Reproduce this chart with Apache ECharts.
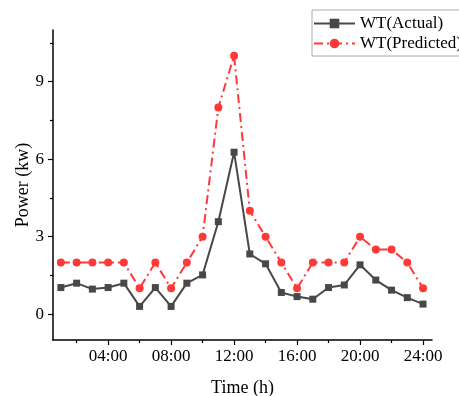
<!DOCTYPE html>
<html><head><meta charset="utf-8">
<script src="https://cdn.jsdelivr.net/npm/echarts@6/dist/echarts.min.js"></script>
<style>html,body{margin:0;padding:0;background:#fff}#c{width:459px;height:396px}</style>
</head><body><div id="c"></div>
<script>
const hours = [1,2,3,4,5,6,7,8,9,10,11,12,13,14,15,16,17,18,19,20,21,22,23,24];
const actual = [1.03,1.2,0.97,1.03,1.2,0.3,1.03,0.3,1.2,1.52,3.58,6.27,2.33,1.95,0.84,0.68,0.58,1.03,1.13,1.91,1.32,0.93,0.64,0.39];
const predicted = [2,2,2,2,2,1,2,1,2,3,8,10,4,3,2,1,2,2,2,3,2.5,2.5,2,1];
const xMajorTicks = [4,8,12,16,20,24];
const xMinorTicks = [2,6,10,14,18,22];
const yMajorTicks = [0,3,6,9];
const yMinorTicks = [1.5,4.5,7.5,10.5];
const fmtHour = v => (v < 10 ? '0' : '') + v + ':00';

const font = '"Liberation Serif","Times New Roman",serif';
const chart = echarts.init(document.getElementById('c'));
const axisLineStyle = {color:'#000', width:1.5};
chart.setOption({
  animation:false,
  grid:{left:53, top:30, right:27, bottom:56, outerBoundsMode:'none', containLabel:false},
  legend:{
    left:312, top:10, orient:'vertical',
    borderColor:'#aaa', borderWidth:1, borderRadius:0,
    padding:[5,6,4,1], itemGap:3, itemWidth:41, itemHeight:12,
    textStyle:{fontFamily:font, fontSize:17, color:'#000', lineHeight:17},
    data:['WT(Actual)','WT(Predicted)']
  },
  xAxis:[{
    type:'value', min:0.5, max:24.57,
    name:'Time (h)', nameLocation:'middle', nameGap:39, nameMoveOverlap:false,
    nameTextStyle:{fontFamily:font, fontSize:18, color:'#000'},
    axisLine:{show:true, onZero:false, lineStyle:axisLineStyle},
    axisTick:{show:true, length:5, lineStyle:{color:'#000', width:1.2}, customValues:xMajorTicks},
    axisLabel:{customValues:xMajorTicks, formatter:fmtHour, fontFamily:font, fontSize:17, color:'#000', margin:8},
    splitLine:{show:false}
  },{
    type:'value', min:0.5, max:24.57, position:'bottom',
    axisLine:{show:false, onZero:false},
    axisTick:{show:true, length:3, lineStyle:{color:'#000', width:1.2}, customValues:xMinorTicks},
    axisLabel:{show:false, customValues:xMinorTicks},
    splitLine:{show:false}
  }],
  yAxis:[{
    type:'value', min:-1, max:11,
    name:'Power (kw)', nameLocation:'middle', nameGap:21, nameMoveOverlap:false,
    nameTextStyle:{fontFamily:font, fontSize:18, color:'#000'},
    axisLine:{show:true, onZero:false, lineStyle:axisLineStyle},
    axisTick:{show:true, length:5, lineStyle:{color:'#000', width:1.2}, customValues:yMajorTicks},
    axisLabel:{customValues:yMajorTicks, fontFamily:font, fontSize:17, color:'#000', margin:9},
    splitLine:{show:false}
  },{
    type:'value', min:-1, max:11, position:'left',
    axisLine:{show:false, onZero:false},
    axisTick:{show:true, length:3, lineStyle:{color:'#000', width:1.2}, customValues:yMinorTicks},
    axisLabel:{show:false, customValues:yMinorTicks},
    splitLine:{show:false}
  }],
  series:[{
    name:'WT(Actual)', type:'line',
    data:hours.map((h,i)=>[h,actual[i]]),
    symbol:'rect', symbolSize:7,
    lineStyle:{color:'#484848', width:2},
    itemStyle:{color:'#484848'}
  },{
    name:'WT(Predicted)', type:'line',
    data:hours.map((h,i)=>[h,predicted[i]]),
    symbol:'circle', symbolSize:8,
    lineStyle:{color:'#ff3838', width:2, type:[9,4,2,4]},
    itemStyle:{color:'#ff3838'}
  }]
});
</script></body></html>
